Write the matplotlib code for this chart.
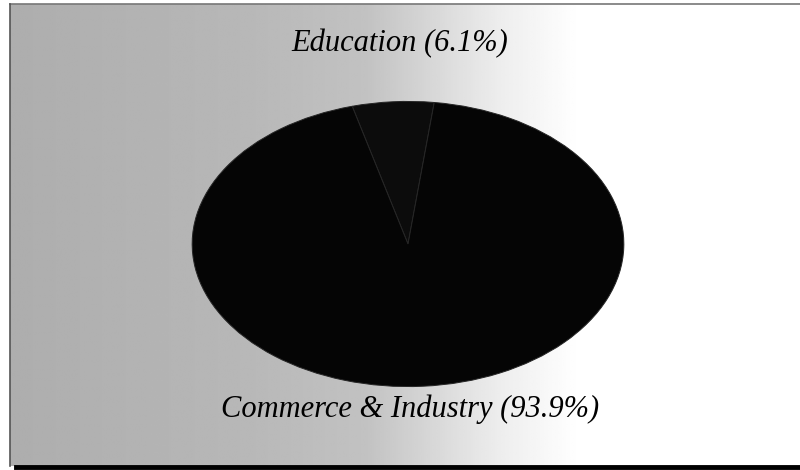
import numpy as np
import matplotlib
matplotlib.use("Agg")
import matplotlib.pyplot as plt

# data
labels = ["Education", "Commerce & Industry"]
shares = [6.1, 93.9]

W, H = 800, 470
fig = plt.figure(figsize=(W / 100, H / 100), dpi=100)
fig.patch.set_facecolor("white")

def fx(px):
    return px / W

def fy(py):
    return 1 - py / H

# background panel with a grey -> white fade from left to right
bg = fig.add_axes([fx(10), fy(466), fx(790), (466 - 4) / H])
xs = np.linspace(0, 1, 400)
shade = np.interp(xs, [0.0, 0.30, 0.45, 0.62, 0.72, 1.0],
                  [0.68, 0.72, 0.76, 0.93, 1.0, 1.0])
bg.imshow(np.tile(shade, (50, 1)), cmap="gray", vmin=0, vmax=1,
          aspect="auto", extent=[0, 1, 0, 1], interpolation="bilinear")
bg.set_xlim(0, 1)
bg.set_ylim(0, 1)
bg.axis("off")

# frame lines
fig.add_artist(plt.Line2D([fx(10), fx(800)], [fy(4), fy(4)], color="#777777", lw=1.2))
fig.add_artist(plt.Line2D([fx(10), fx(10)], [fy(4), fy(466)], color="#555555", lw=1.2))
fig.add_artist(plt.Line2D([fx(16), fx(800)], [fy(467), fy(467)], color="black", lw=3.5))

# elliptical pie
ax = fig.add_axes([fx(190), fy(388), fx(626 - 190), (388 - 100) / H])
ax.pie(shares, startangle=90 - shares[0] * 3.6 / 2 + 4,
       colors=["#0c0c0c", "#050505"],
       wedgeprops=dict(edgecolor="#262626", linewidth=0.7))
ax.set_aspect("auto")
ax.set_xlim(-1.01, 1.01)
ax.set_ylim(-1.01, 1.01)
ax.axis("off")

font = dict(family=["Liberation Serif", "DejaVu Serif"], style="italic",
            fontsize=22, color="black")
fig.text(fx(400), fy(44), f"{labels[0]} ({shares[0]}%)", ha="center", va="center", **font)
fig.text(fx(410), fy(409), f"{labels[1]} ({shares[1]}%)", ha="center", va="center", **font)

fig.savefig("out.png", dpi=100)
